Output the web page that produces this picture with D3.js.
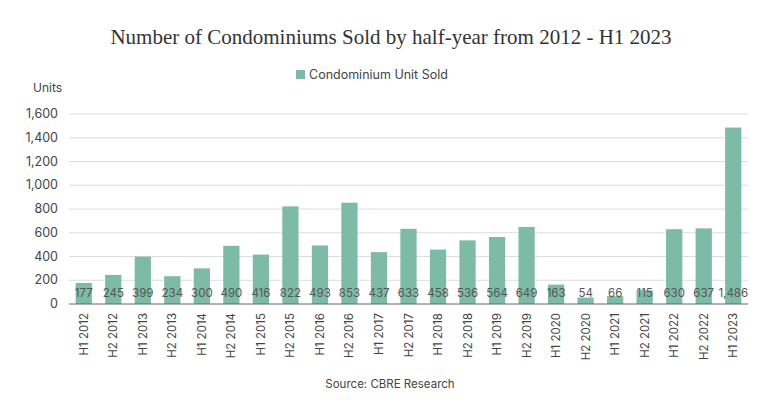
<!DOCTYPE html><html><head><meta charset="utf-8"><script src="https://cdn.jsdelivr.net/npm/d3@7"></script>
<style>body{margin:0;background:#fff}</style></head><body><svg id="c" width="780" height="420"></svg>
<script>
const categories=["H1 2012","H2 2012","H1 2013","H2 2013","H1 2014","H2 2014","H1 2015","H2 2015","H1 2016","H2 2016","H1 2017","H2 2017","H1 2018","H2 2018","H1 2019","H2 2019","H1 2020","H2 2020","H1 2021","H2 2021","H1 2022","H2 2022","H1 2023"];
const unitsSold=[177,245,399,234,300,490,416,822,493,853,437,633,458,536,564,649,163,54,66,115,630,637,1486];
const yTicks=[0,200,400,600,800,1000,1200,1400,1600];
const seriesName="Condominium Unit Sold";
const svg=d3.select("#c");
const font="Inter, 'Noto Sans', sans-serif";
const x=d3.scaleBand().domain(categories).range([69,748]).paddingInner(0.45).paddingOuter(0.225);
const y=d3.scaleLinear().domain([0,1600]).range([304,114]);
const color="#7dbba6";
svg.append("text").attr("x",391).attr("y",44).attr("text-anchor","middle").attr("font-family","'Liberation Serif', serif").attr("font-size",21).attr("fill","#333").text("Number of Condominiums Sold by half-year from 2012 - H1 2023");
svg.append("rect").attr("x",296).attr("y",70).attr("width",9).attr("height",9).attr("fill",color);
svg.append("text").attr("x",309).attr("y",79).attr("font-family",font).attr("font-size",12.5).attr("fill","#444").text(seriesName);
svg.append("text").attr("x",33).attr("y",92).attr("font-family",font).attr("font-size",12).attr("fill","#444").text("Units");
const g=svg.append("g");
g.selectAll("line.grid").data(yTicks.slice(1)).join("line").attr("x1",69).attr("x2",748).attr("y1",d=>y(d)).attr("y2",d=>y(d)).attr("stroke","#ddd");
g.selectAll("text.yt").data(yTicks).join("text").attr("x",58).attr("y",d=>y(d)+4).attr("text-anchor","end").attr("font-family",font).attr("font-size",12.5).attr("fill","#444").text(d=>d3.format(",")(d));
g.selectAll("rect.bar").data(unitsSold).join("rect").attr("x",(d,i)=>x(categories[i])).attr("width",x.bandwidth()).attr("y",d=>y(d)).attr("height",d=>y(0)-y(d)).attr("fill",color);
g.append("line").attr("x1",69).attr("x2",748).attr("y1",304).attr("y2",304).attr("stroke","#666");
g.selectAll("text.v").data(unitsSold).join("text").attr("x",(d,i)=>x(categories[i])+x.bandwidth()/2).attr("y",297).attr("text-anchor","middle").attr("font-family",font).attr("font-size",11.5).attr("fill","#555").text(d=>d3.format(",")(d));
g.selectAll("text.cat").data(categories).join("text").attr("transform",d=>`translate(${x(d)+x.bandwidth()/2+4},313) rotate(-90)`).attr("text-anchor","end").attr("font-family",font).attr("font-size",11.5).attr("fill","#444").text(d=>d);
svg.append("text").attr("x",390).attr("y",388).attr("text-anchor","middle").attr("font-family",font).attr("font-size",11.5).attr("fill","#444").text("Source: CBRE Research");
</script></body></html>
